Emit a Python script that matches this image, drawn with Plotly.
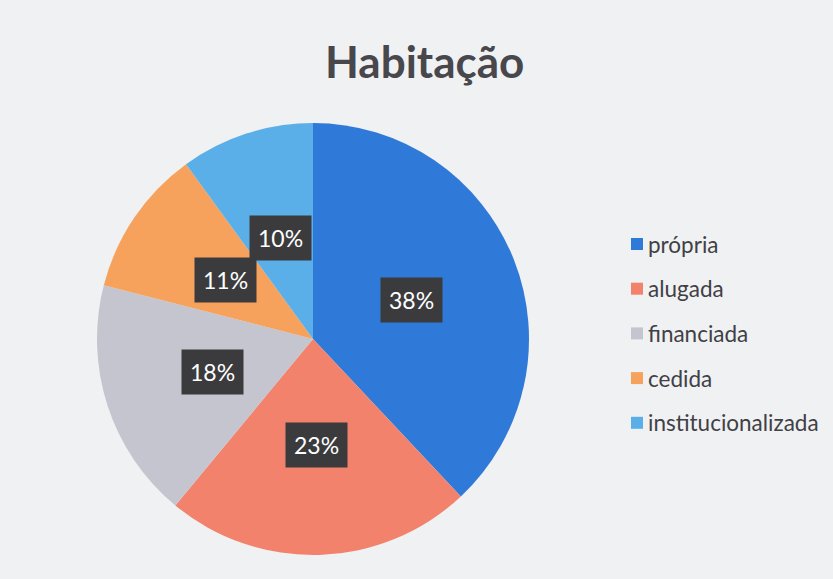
import math
import plotly.graph_objects as go

categories = ["própria", "alugada", "financiada", "cedida", "institucionalizada"]
values = [38, 23, 18, 11, 10]
colors = ["#2F7AD9", "#F2826C", "#C5C5CF", "#F6A25C", "#5AAFE9"]
title = "Habitação"

W, H = 833, 579
cx_px, cy_px, r_px = 313, 339, 216  # pie centre / radius in pixels (layout)

dom_x = [(cx_px - r_px) / W, (cx_px + r_px) / W]
dom_y = [(H - cy_px - r_px) / H, (H - cy_px + r_px) / H]

fig = go.Figure(go.Pie(
    labels=categories, values=values, sort=False, direction="clockwise",
    rotation=0, marker=dict(colors=colors, line=dict(width=0)),
    textinfo="none", hoverinfo="label+percent", showlegend=False,
    domain=dict(x=dom_x, y=dom_y),
))

# data labels in dark boxes, placed at each slice's mid-angle
total = sum(values)
cum = 0
annotations = []
for lab, v in zip(categories, values):
    mid = (cum + v / 2) / total * 2 * math.pi
    cum += v
    d = 0.49 * r_px
    px = cx_px + d * math.sin(mid)
    py = cy_px - d * math.cos(mid)
    annotations.append(dict(
        x=px / W, y=1 - py / H, xref="paper", yref="paper",
        xanchor="center", yanchor="middle",
        text=f"{round(v / total * 100)}%", showarrow=False,
        font=dict(family="Lato, Open Sans, sans-serif", size=23, color="white"),
        bgcolor="#3b3b3d", borderpad=8,
    ))

# legend drawn manually
shapes = []
leg_x, leg_y0, leg_dy = 637, 244, 44.7
for i, (lab, col) in enumerate(zip(categories, colors)):
    y = leg_y0 + i * leg_dy
    shapes.append(dict(type="rect", xref="paper", yref="paper",
                       x0=(leg_x - 6) / W, x1=(leg_x + 6) / W,
                       y0=1 - (y + 6) / H, y1=1 - (y - 6) / H,
                       fillcolor=col, line=dict(width=0)))
    annotations.append(dict(
        x=(leg_x + 9) / W, y=1 - y / H, xref="paper", yref="paper",
        xanchor="left", yanchor="middle", text=lab, showarrow=False,
        font=dict(family="Lato, Open Sans, sans-serif", size=22.5, color="#404045"),
    ))

annotations.append(dict(
    x=424 / W, y=1 - 61 / H, xref="paper", yref="paper",
    xanchor="center", yanchor="middle",
    text=f"<b>{title}</b>", showarrow=False,
    font=dict(family="Lato, Open Sans, sans-serif", size=44, color="#48484c"),
))

fig.update_layout(
    width=W, height=H, margin=dict(l=0, r=0, t=0, b=0),
    paper_bgcolor="#F0F1F3", plot_bgcolor="#F0F1F3",
    annotations=annotations, shapes=shapes, showlegend=False,
)

fig.write_html(
    "out.html",
    config={"displayModeBar": False},
    post_script="document.body.style.margin='0';document.body.style.padding='0';"
                "document.body.style.overflow='hidden';",
)
